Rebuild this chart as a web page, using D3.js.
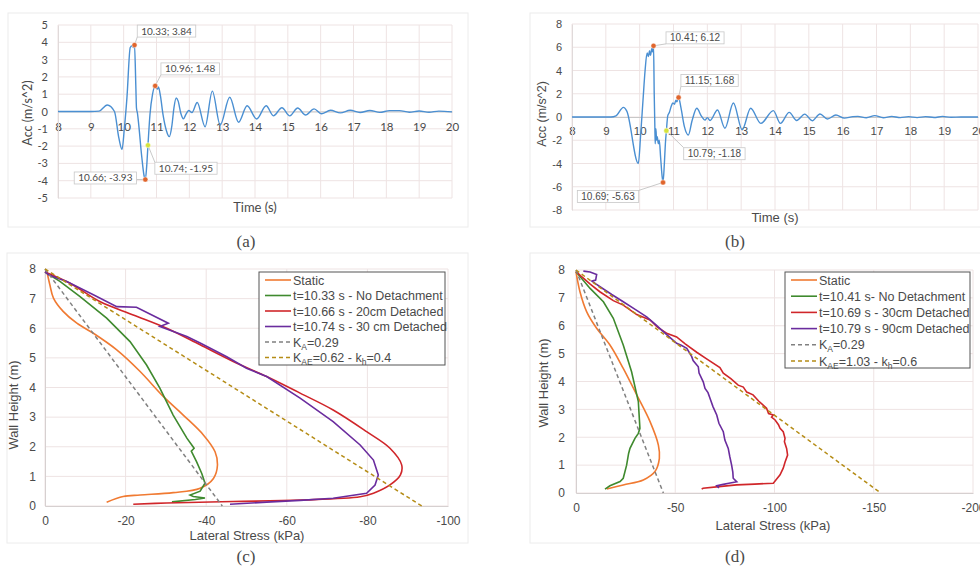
<!DOCTYPE html>
<html lang="en">
<head>
<meta charset="UTF-8">
<title>Wall acceleration and lateral stress</title>
<script src="https://cdn.jsdelivr.net/npm/d3@7"></script>
<style>
  body { margin:0; background:#fff; }
  svg text { fill:#4a4a4a; }
</style>
</head>
<body>
<script>
// (a) acceleration record
var timeA = [8, 9.0, 9.25, 9.5, 9.72, 9.85, 9.95, 10.02, 10.1, 10.2, 10.26, 10.3, 10.33, 10.37, 10.39, 10.42, 10.45, 10.55, 10.62, 10.66, 10.7, 10.74, 10.8, 10.88, 10.96, 11.0, 11.03, 11.06, 11.12, 11.2, 11.3, 11.39, 11.47, 11.53, 11.6, 11.66, 11.74, 11.82, 11.9, 11.98, 12.08, 12.24, 12.48, 12.7, 12.94, 13.23, 13.5, 13.76, 14.05, 14.34, 14.56, 14.82, 15.06, 15.3, 15.54, 15.8, 16.02, 16.3, 16.6, 16.9, 17.2, 17.5, 17.8, 18.1, 18.4, 18.7, 19.0, 19.3, 19.6, 20];
var accA = [0, 0, 0.02, 0.38, 0, -1.5, -2.2, -1.0, 0.8, 3.7, 3.8, 3.7, 3.84, 1.5, 0.2, -0.1, -0.6, -2.6, -3.7, -3.93, -3.2, -1.95, -0.2, 1.0, 1.48, 1.35, 1.3, 1.42, 0.9, -0.2, -1.1, -1.45, -0.8, 0.2, 0.78, 0.6, -0.1, -0.42, -0.15, 0.06, -0.06, 0.52, -0.88, 1.18, -0.78, 0.82, -0.62, 0.33, -0.43, 0.33, -0.25, 0.22, -0.25, 0.2, -0.2, 0.15, -0.13, 0.07, -0.08, 0.07, -0.06, 0.06, -0.05, 0.05, 0.05, -0.04, 0.03, -0.04, 0.02, -0.02];
var marksA = [[10.33, 3.84], [10.96, 1.48], [10.74, -1.95], [10.66, -3.93]];

// (b) acceleration record
var timeB = [8, 9.15, 9.3, 9.52, 9.62, 9.96, 10.03, 10.1, 10.16, 10.22, 10.26, 10.29, 10.32, 10.36, 10.38, 10.41, 10.43, 10.45, 10.46, 10.48, 10.5, 10.52, 10.55, 10.58, 10.62, 10.66, 10.69, 10.73, 10.76, 10.79, 10.83, 10.88, 10.93, 10.98, 11.03, 11.07, 11.1, 11.15, 11.22, 11.32, 11.44, 11.55, 11.69, 11.82, 11.93, 12.0, 12.08, 12.3, 12.52, 12.77, 13.03, 13.28, 13.58, 13.95, 14.16, 14.42, 14.64, 14.88, 15.1, 15.33, 15.55, 15.8, 16.05, 16.3, 16.45, 16.7, 16.95, 17.2, 17.45, 17.7, 17.95, 18.2, 18.45, 18.7, 18.95, 19.2, 19.5, 20];
var accB = [0, 0, 0.1, 0.83, 0.5, -4.0, -1.5, 1.5, 4.0, 5.5, 5.2, 5.7, 5.3, 5.9, 5.6, 6.12, 2.0, -1.0, -2.3, -1.0, -2.0, -1.7, -2.3, -2.0, -3.5, -5.0, -5.63, -4.0, -2.3, -1.18, 0.1, 0.4, 0.9, 1.2, 1.1, 1.45, 1.3, 1.68, 0.8, -0.8, -1.55, -0.3, 0.75, 0.1, -0.27, -0.05, -0.3, 0.6, -0.97, 1.2, -1.1, 0.75, -0.55, 0.55, -0.55, 0.4, -0.3, 0.25, -0.32, 0.26, -0.17, 0.17, -0.1, 0.03, 0.05, -0.06, 0.12, -0.06, 0.05, -0.05, 0.03, -0.05, 0.03, -0.04, 0.05, -0.02, 0, 0];
var marksB = [[10.41, 6.12], [11.15, 1.68], [10.79, -1.18], [10.69, -5.63]];

// (c) lateral stress profiles [stress kPa, height m]
var staticC = [[-0.5,7.9],[-1.2,7.47],[-2.1,7.02],[-4.5,6.57],[-7.9,6.17],[-12,5.83],[-17.8,5.27],[-23.6,4.54],[-29.4,3.69],[-34.3,3.07],[-39.3,2.4],[-42.2,1.83],[-42.8,1.39],[-41.8,0.93],[-38.5,0.6],[-31.8,0.45],[-23.6,0.37],[-19.4,0.32],[-15.3,0.13]];
var noDetachC = [[0,7.9],[-3.7,7.58],[-8.7,7.07],[-15.3,6.34],[-21.1,5.55],[-25.2,4.76],[-28.5,3.98],[-31.8,3.07],[-35.2,2.29],[-37,1.95],[-36.3,1.85],[-37.6,1.5],[-38.9,1.1],[-39.7,0.77],[-38.5,0.5],[-36,0.37],[-36.8,0.32],[-39.7,0.27],[-37.3,0.22],[-31.5,0.14]];
var detach20C = [[0,7.9],[-6.2,7.52],[-13.6,6.9],[-21.9,6.45],[-30.2,6.0],[-38.5,5.44],[-46.7,4.88],[-55,4.37],[-63.3,3.81],[-71.5,3.24],[-79.8,2.51],[-85.6,1.95],[-88.5,1.39],[-88.2,1.05],[-85.6,0.71],[-81.5,0.43],[-78.2,0.31],[-63.3,0.2],[-46.7,0.15],[-30.2,0.1],[-21.9,0.06]];
var detach30C = [[0,7.9],[-1,7.8],[-5.4,7.58],[-12,7.13],[-17.8,6.73],[-22.7,6.71],[-30.6,6.17],[-28.5,6.06],[-35.2,5.72],[-38.5,5.5],[-45.1,5.04],[-50,4.65],[-55,4.37],[-63.3,3.64],[-71.5,2.85],[-78.2,2.06],[-81.5,1.55],[-82.7,1.05],[-81.9,0.71],[-79.8,0.43],[-71.5,0.26],[-63.3,0.19],[-55,0.13],[-45.9,0.06]];
var kaC = [[0,8],[-44,0]];
var kaeC = [[0,8],[-93.5,0]];

// (d) lateral stress profiles
var staticD = [[0,7.94],[-2,7.22],[-5.4,6.5],[-10.4,5.91],[-17.1,5.31],[-23.8,4.47],[-30.6,3.52],[-37.3,2.56],[-41.5,1.72],[-42,1.24],[-39.8,0.77],[-33.9,0.47],[-23.8,0.29],[-15.5,0.14]];
var noDetachD = [[0,7.94],[-7.1,7.34],[-13.8,6.86],[-18.8,6.27],[-23.8,5.31],[-28,4.35],[-31.4,3.28],[-32.2,2.32],[-31.4,2.14],[-29.7,1.96],[-27.2,1.6],[-26.5,1.42],[-25.5,1.0],[-23.8,0.53],[-22.2,0.41],[-17.1,0.26],[-14.6,0.14]];
var detach30D = [[0,7.95],[-3,7.75],[-7,7.5],[-12,7.22],[-18.8,6.9],[-23.8,6.74],[-30.6,6.4],[-37.3,6.21],[-41,5.95],[-46,5.72],[-50.7,5.6],[-55,5.35],[-60.8,5.05],[-66,4.8],[-72.5,4.5],[-74.2,4.3],[-78,4.1],[-81.7,3.87],[-84.3,3.8],[-86,3.62],[-89.2,3.52],[-92,3.3],[-96,3.04],[-97,2.85],[-99.4,2.8],[-98.5,2.72],[-100.3,2.62],[-102,2.45],[-102.8,2.32],[-104.4,2.2],[-105.3,1.96],[-105,1.84],[-106.1,1.6],[-106.6,1.36],[-105.3,1.1],[-104.4,0.89],[-102.8,0.65],[-100.5,0.45],[-99.4,0.35],[-90,0.32],[-80.9,0.29],[-72,0.23],[-64,0.17],[-63.3,0.14]];
var detach90D = [[-3.7,7.96],[-7.1,7.93],[-10.4,7.84],[-9.9,7.64],[-8,7.6],[-10,7.5],[-12.1,7.4],[-18,7.12],[-23.8,6.86],[-30,6.58],[-35.6,6.32],[-40,6.05],[-44,5.79],[-47,5.6],[-50.7,5.37],[-53,5.3],[-55.8,5.19],[-57,5.05],[-58.3,4.89],[-59,4.75],[-61.6,4.53],[-62,4.3],[-64.1,3.99],[-65,3.75],[-66.5,3.6],[-67.5,3.4],[-69,3.1],[-70.9,2.8],[-72,2.5],[-74.2,2.2],[-75,1.9],[-76.7,1.6],[-77.5,1.3],[-78.4,1.0],[-79,0.75],[-79.2,0.53],[-81,0.4],[-77,0.35],[-74.2,0.31],[-70.9,0.26],[-72,0.18]];
var kaD = [[0,8],[-44,0]];
var kaeD = [[0,8],[-153.5,0]];

// legend labels, segments marked "s" are subscripts
var legendC = [[["Static"]], [["t=10.33 s - No Detachment"]], [["t=10.66 s - 20cm Detached"]], [["t=10.74 s - 30 cm Detached"]],
  [["K"], ["A", "s"], ["=0.29"]], [["K"], ["AE", "s"], ["=0.62 - k"], ["h", "s"], ["=0.4"]]];
var legendD = [[["Static"]], [["t=10.41 s- No Detachment"]], [["t=10.69 s - 30cm Detached"]], [["t=10.79 s - 90cm Detached"]],
  [["K"], ["A", "s"], ["=0.29"]], [["K"], ["AE", "s"], ["=1.03 - k"], ["h", "s"], ["=0.6"]]];

var gridColor = "#eee3e3";
var plain = d => String(d);
var svg = d3.select("body").append("svg").attr("width", 980).attr("height", 570);

function accPanel(cfg, times, accs, marks) {
  var x = d3.scaleLinear().domain([8, 20]).range([cfg.x0, cfg.x1]);
  var y = d3.scaleLinear().domain(cfg.yDomain).range([cfg.y0, cfg.y1]);
  var g = svg.append("g").style("font-family", cfg.font);

  g.append("rect").attr("x", cfg.box[0]).attr("y", cfg.box[1]).attr("width", cfg.box[2]).attr("height", cfg.box[3])
    .attr("fill", "#fff").attr("stroke", "#ececec");

  g.selectAll(".vg").data(d3.range(8, 21)).enter().append("line")
    .attr("x1", d => x(d)).attr("x2", d => x(d)).attr("y1", cfg.y1).attr("y2", cfg.y0)
    .attr("stroke", gridColor);
  g.selectAll(".hg").data(cfg.yTicks).enter().append("line")
    .attr("x1", cfg.x0).attr("x2", cfg.x1).attr("y1", d => y(d)).attr("y2", d => y(d))
    .attr("stroke", gridColor);

  var xa = g.append("g").attr("transform", "translate(0," + y(0) + ")")
    .call(d3.axisBottom(x).tickValues(d3.range(8, 21)).tickSize(0).tickPadding(cfg.xPad).tickFormat(plain));
  xa.select(".domain").attr("stroke", "#c8c8c8");
  xa.selectAll("text").attr("font-size", 11.5).attr("fill", "#555").style("font-family", cfg.font);

  var ya = g.append("g").attr("transform", "translate(" + cfg.x0 + ",0)")
    .call(d3.axisLeft(y).tickValues(cfg.yTicks).tickSize(0).tickPadding(cfg.yPad).tickFormat(plain));
  ya.select(".domain").attr("stroke", "#e0dada");
  ya.selectAll("text").attr("font-size", 11).attr("fill", "#555").style("font-family", cfg.font);

  g.append("text").attr("transform", "translate(" + cfg.yTitle[0] + "," + cfg.yTitle[1] + ") rotate(-90)")
    .attr("text-anchor", "middle").attr("font-size", 12.5).text("Acc (m/s^2)");
  g.append("text").attr("x", cfg.xTitle[0]).attr("y", cfg.xTitle[1])
    .attr("text-anchor", "middle").attr("font-size", 13).text("Time (s)");

  var line = d3.line().x(d => x(d[0])).y(d => y(d[1])).curve(d3.curveMonotoneX);
  g.append("path").datum(d3.zip(times, accs)).attr("d", line)
    .attr("fill", "none").attr("stroke", "#4a8fd2").attr("stroke-width", 1.4);

  // data labels with leader lines
  marks.forEach(function(m, i) {
    var px = x(m[0]), py = y(m[1]);
    var off = cfg.labelOffsets[i];
    var lab = g.append("g");
    var leader = lab.append("line");
    var box = lab.append("rect");
    var t = lab.append("text").attr("x", px + off[0]).attr("y", py + off[1] + 3.5)
      .attr("text-anchor", "middle").attr("font-size", 10).attr("fill", "#555").text(m[0] + "; " + m[1]);
    var w = t.node().getComputedTextLength() + 8, h = 12;
    var bx = px + off[0] - w / 2, by = py + off[1] - h / 2;
    var ex = Math.max(bx, Math.min(px, bx + w)), ey = Math.max(by, Math.min(py, by + h));
    leader.attr("x1", px).attr("y1", py).attr("x2", ex).attr("y2", ey)
      .attr("stroke", "#bbb").attr("stroke-width", 0.8);
    box.attr("x", bx).attr("y", by).attr("width", w).attr("height", h)
      .attr("fill", "#fff").attr("stroke", "#c8c8c8").attr("stroke-width", 0.8);
    lab.append("circle").attr("cx", px).attr("cy", py).attr("r", 2.6)
      .attr("fill", i == 2 ? "#d4e33c" : "#e0652c").attr("stroke", "#fff").attr("stroke-width", 0.5);
  });
}

function profilePanel(cfg, series, legend) {
  var x = d3.scaleLinear().domain([0, cfg.xMin]).range([cfg.x0, cfg.x1]);
  var y = d3.scaleLinear().domain([0, 8]).range([cfg.y0, cfg.y1]);
  var font = "'Liberation Sans', Arial, sans-serif";
  var g = svg.append("g").style("font-family", font);

  g.append("rect").attr("x", cfg.box[0]).attr("y", cfg.box[1]).attr("width", cfg.box[2]).attr("height", cfg.box[3])
    .attr("fill", "#fff").attr("stroke", "#ececec");

  g.selectAll(".vg").data(cfg.xTicks).enter().append("line")
    .attr("x1", d => x(d)).attr("x2", d => x(d)).attr("y1", cfg.y1).attr("y2", cfg.y0)
    .attr("stroke", gridColor);
  g.selectAll(".hg").data(d3.range(0, 9)).enter().append("line")
    .attr("x1", cfg.x0).attr("x2", cfg.x1).attr("y1", d => y(d)).attr("y2", d => y(d))
    .attr("stroke", gridColor);

  var xa = g.append("g").attr("transform", "translate(0," + cfg.y0 + ")")
    .call(d3.axisBottom(x).tickValues(cfg.xTicks).tickSize(0).tickPadding(10).tickFormat(plain));
  xa.select(".domain").attr("stroke", "#d6d0d0");
  xa.selectAll("text").attr("font-size", 12).attr("fill", "#555").style("font-family", font);

  var ya = g.append("g").attr("transform", "translate(" + cfg.x0 + ",0)")
    .call(d3.axisLeft(y).tickValues(d3.range(0, 9)).tickSize(0).tickPadding(cfg.yPad).tickFormat(plain));
  ya.select(".domain").attr("stroke", "#d6d0d0");
  ya.selectAll("text").attr("font-size", 12).attr("fill", "#555").style("font-family", font);

  g.append("text").attr("transform", "translate(" + cfg.yTitle[0] + "," + cfg.yTitle[1] + ") rotate(-90)")
    .attr("text-anchor", "middle").attr("font-size", 13).text("Wall Height (m)");
  g.append("text").attr("x", cfg.xTitle[0]).attr("y", cfg.xTitle[1])
    .attr("text-anchor", "middle").attr("font-size", 13).text("Lateral Stress (kPa)");

  series.forEach(function(s) {
    var line = d3.line().x(d => x(d[0])).y(d => y(d[1]))
      .curve(s.smooth ? d3.curveCatmullRom.alpha(0.5) : d3.curveLinear);
    g.append("path").datum(s.data).attr("d", line).attr("fill", "none")
      .attr("stroke", s.color).attr("stroke-width", s.dash ? 1.5 : 1.6)
      .attr("stroke-dasharray", s.dash ? "4,3" : null);
  });

  // legend
  var lg = g.append("g");
  lg.append("rect").attr("x", cfg.legend[0]).attr("y", cfg.legend[1]).attr("width", cfg.legend[2]).attr("height", cfg.legend[3])
    .attr("fill", "#fff").attr("stroke", "#555").attr("stroke-width", 1);
  legend.forEach(function(parts, i) {
    var ly = cfg.legend[1] + 8 + i * cfg.legendStep;
    var s = series[i];
    lg.append("line").attr("x1", cfg.legend[0] + 6).attr("x2", cfg.legend[0] + 32).attr("y1", ly).attr("y2", ly)
      .attr("stroke", s.color).attr("stroke-width", 1.6).attr("stroke-dasharray", s.dash ? "4,3" : null);
    var t = lg.append("text").attr("x", cfg.legend[0] + 34).attr("y", ly + 4.5).attr("font-size", 12.5).attr("fill", "#444");
    var prevSub = false;
    parts.forEach(function(p) {
      var ts = t.append("tspan").text(p[0]);
      var sub = p[1] == "s";
      if (sub) ts.attr("font-size", 8.5).attr("dy", 3);
      else if (prevSub) ts.attr("dy", -3);
      prevSub = sub;
    });
  });
}

var cOrange = "#f07a32", cGreen = "#3f8a2e", cRed = "#d0262a", cPurple = "#6a2c9e", cGrey = "#808080", cOlive = "#b58c16";

accPanel({x0: 58, x1: 452, y0: 198, y1: 25, yDomain: [-5, 5], yTicks: d3.range(-5, 6), box: [8, 13, 460, 214],
  font: "Lato, 'Liberation Sans', sans-serif", xPad: 11, yPad: 10, yTitle: [32, 113], xTitle: [255, 212],
  labelOffsets: [[32, -14], [35, -17], [38, 23], [-40, -1.5]]}, timeA, accA, marksA);

accPanel({x0: 572, x1: 978, y0: 210, y1: 24, yDomain: [-8, 8], yTicks: d3.range(-8, 9, 2), box: [530, 13, 460, 214],
  font: "'Liberation Sans', Arial, sans-serif", xPad: 10, yPad: 10, yTitle: [546, 114], xTitle: [775, 222],
  labelOffsets: [[41.5, -8], [31, -17], [48, 23], [-55, 14]]}, timeB, accB, marksB);

profilePanel({x0: 45, x1: 448, y0: 506, y1: 269, xMin: -100, xTicks: d3.range(0, -101, -20), box: [7, 253, 461, 290],
  yPad: 9, yTitle: [18, 405], xTitle: [247, 540], legend: [259, 272, 186, 93], legendStep: 15.5},
  [{data: staticC, color: cOrange, smooth: true}, {data: noDetachC, color: cGreen}, {data: detach20C, color: cRed, smooth: true},
   {data: detach30C, color: cPurple}, {data: kaC, color: cGrey, dash: true}, {data: kaeC, color: cOlive, dash: true}], legendC);

profilePanel({x0: 576, x1: 973, y0: 493, y1: 270, xMin: -200, xTicks: d3.range(0, -201, -50), box: [530, 253, 460, 290],
  yPad: 11, yTitle: [548, 383], xTitle: [773, 530], legend: [785, 272, 185, 96], legendStep: 16.2},
  [{data: staticD, color: cOrange, smooth: true}, {data: noDetachD, color: cGreen}, {data: detach30D, color: cRed},
   {data: detach90D, color: cPurple}, {data: kaD, color: cGrey, dash: true}, {data: kaeD, color: cOlive, dash: true}], legendD);

// panel captions
var captions = ["(a)", "(b)", "(c)", "(d)"];
var capPos = [[246, 247], [735, 247], [246, 562], [735, 562]];
svg.selectAll(".cap").data(captions).enter().append("text")
  .attr("x", (d, i) => capPos[i][0]).attr("y", (d, i) => capPos[i][1])
  .attr("text-anchor", "middle").attr("font-size", 17).attr("fill", "#111")
  .style("font-family", "'Liberation Serif', 'Times New Roman', serif").text(d => d);
</script>
</body>
</html>
